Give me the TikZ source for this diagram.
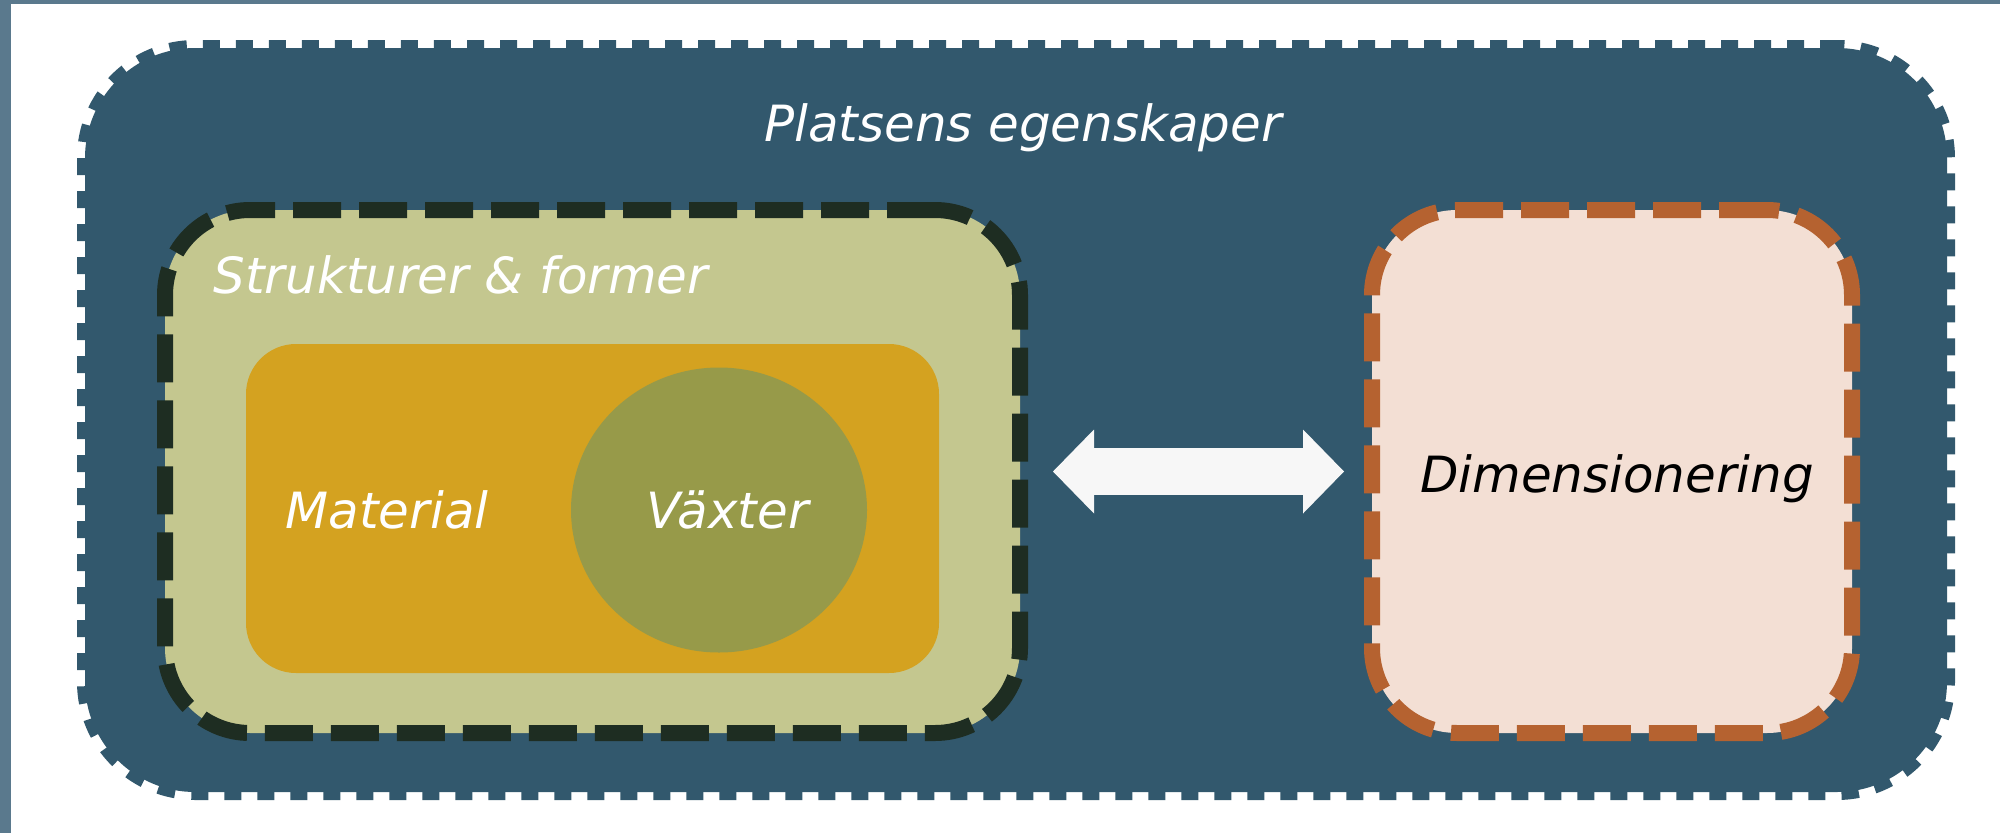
\documentclass[tikz,border=0pt]{standalone}
\usepackage{fontspec}
\setmainfont{DejaVu Sans}
\usetikzlibrary{arrows.meta,shapes.geometric}
\definecolor{framegray}{RGB}{90,121,141}
\definecolor{navy}{RGB}{50,88,109}
\definecolor{sage}{RGB}{196,199,143}
\definecolor{darkgreen}{RGB}{30,45,34}
\definecolor{gold}{RGB}{212,162,32}
\definecolor{olive}{RGB}{151,154,73}
\definecolor{rust}{RGB}{181,98,48}
\definecolor{peach}{RGB}{243,223,212}
\definecolor{offwhite}{RGB}{247,247,247}

\begin{document}
\begin{tikzpicture}[
  box/.style={rectangle,inner sep=0pt,outer sep=0pt,line width=0.16cm},
  boxtext/.style={font=\fontsize{14.2}{17}\selectfont\itshape,inner sep=0pt},
  bigdash/.style={dash pattern=on 0.48cm off 0.18cm}
]
\useasboundingbox (0,0) rectangle (20,8.33);
\fill[white] (0,0) rectangle (20,8.33);
\fill[framegray] (0,0) rectangle (0.11,8.33);
\fill[framegray] (0,8.295) rectangle (20,8.33);

% outer box
\node[box,fill=navy,draw=navy,dash pattern=on 0.17cm off 0.16cm,rounded corners=1.1cm,
  minimum width=18.62cm,minimum height=7.44cm] (plats) at (10.16,4.13) {};
\node[boxtext,white,anchor=base] (platstext) at (10.23,6.92) {Platsens egenskaper};

% left box
\node[box,fill=sage,draw=darkgreen,bigdash,rounded corners=0.85cm,
  minimum width=8.55cm,minimum height=5.23cm] (struct) at (5.925,3.615) {};
\node[boxtext,white,anchor=base west] (structtext) at (2.13,5.40) {Strukturer \& former};
\node[box,fill=gold,rounded corners=0.5cm,
  minimum width=6.93cm,minimum height=3.29cm] (material) at (5.925,3.245) {};
\node[box,ellipse,fill=olive,minimum width=2.96cm,minimum height=2.85cm] (vaxter) at (7.19,3.23) {};
\node[boxtext,white,anchor=base west] (materialtext) at (2.85,3.05) {Material};
\node[boxtext,white,anchor=base west] (vaxtertext) at (6.46,3.05) {Växter};

% right box
\node[box,fill=peach,draw=rust,bigdash,rounded corners=0.85cm,
  minimum width=4.80cm,minimum height=5.23cm] (dim) at (16.12,3.615) {};
\node[boxtext,anchor=base] (dimtext) at (16.17,3.41) {Dimensionering};

\draw[offwhite,line width=0.47cm,
  {Triangle[length=0.41cm,width=0.84cm,line width=0pt]}-{Triangle[length=0.41cm,width=0.84cm,line width=0pt]},
  shorten <=0.33cm,shorten >=0.28cm] (struct.east) -- (dim.west);
\end{tikzpicture}
\end{document}
